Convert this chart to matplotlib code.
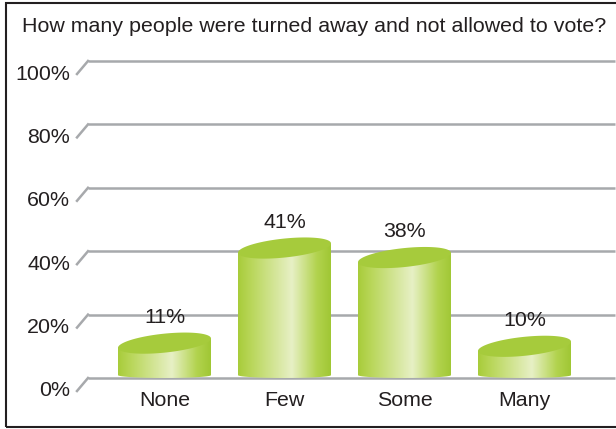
import numpy as np
import matplotlib.pyplot as plt
from matplotlib.patches import Polygon, Rectangle
from matplotlib.colors import LinearSegmentedColormap

plt.rcParams['font.family'] = ['Liberation Sans', 'DejaVu Sans']

title = "How many people were turned away and not allowed to vote?"
categories = ["None", "Few", "Some", "Many"]
values = [11, 41, 38, 10]
yticks = [0, 20, 40, 60, 80, 100]

W, H = 616, 429
fig = plt.figure(figsize=(W / 100, H / 100), dpi=100)

# axes box in pixels (back wall)
left_px, right_px, bot_px, top_px = 88, 615, 378, 61
ax = fig.add_axes([left_px / W, 1 - bot_px / H,
                   (right_px - left_px) / W, (bot_px - top_px) / H])
ax.axis('off')

unit = 120.0                      # pixels per category
xmin = -(164.5 - left_px) / unit
xmax = xmin + (right_px - left_px) / unit
ax.set_xlim(xmin, xmax)
ax.set_ylim(0, 100)

py = 100.0 / (bot_px - top_px)    # data units per pixel (y)
dark = '#231f20'
grid_c = '#a7a9ac'
fs = 15.4

# grid lines with slanted wall stub
for v in yticks:
    ax.plot([xmin, xmax], [v, v], color=grid_c, lw=1.8, solid_capstyle='butt',
            clip_on=False, zorder=1)
    ax.plot([xmin - 11 / unit, xmin], [v - 13 * py, v], color=grid_c, lw=1.8,
            clip_on=False, zorder=1)
    ax.text(xmin - 18 / unit, v - 13 * py, f"{v}%", ha='right', va='center',
            fontsize=fs, color=dark)

cmap = LinearSegmentedColormap.from_list('cyl', [
    (0.0, (168/255, 204/255, 58/255)),
    (0.15, (186/255, 215/255, 92/255)),
    (0.58, (231/255, 240/255, 197/255)),
    (0.85, (178/255, 211/255, 78/255)),
    (1.0, (160/255, 199/255, 52/255)),
])
grad = np.linspace(0, 1, 256).reshape(1, -1)

bw = 93 / unit
a = bw / 2
b = 9.5 * py
shear = 0.1 * py * unit
t_top = np.linspace(0, 2 * np.pi, 200)
t_bot = np.linspace(np.pi, 2 * np.pi, 100)

for i, (cat, v) in enumerate(zip(categories, values)):
    x0, x1 = i - a, i + a
    # body outline: left side, bottom arc, right side
    bx = i + a * np.cos(t_bot)
    by = 0.9 + 0.9 * np.sin(t_bot)
    body = np.vstack([[x0, v], np.column_stack([bx, by]), [x1, v]])
    body[0, 1] = v + shear * (-a)
    body[-1, 1] = v + shear * a
    poly = Polygon(body, closed=True, facecolor='none', edgecolor='none')
    ax.add_patch(poly)
    im = ax.imshow(grad, cmap=cmap, extent=[x0, x1, 0, v + 5], aspect='auto',
                   zorder=2, interpolation='bilinear')
    im.set_clip_path(poly)

    # top ellipse, sheared so it tilts up to the right
    ex = a * np.cos(t_top)
    ey = v + b * np.sin(t_top) + shear * ex
    ax.add_patch(Polygon(np.column_stack([i + ex, ey]), closed=True,
                         facecolor='#a6cb3c', edgecolor='none', zorder=3))

    ax.annotate(f"{v}%", (i, v), xytext=(0, 26), textcoords='offset pixels',
                ha='center', va='center', fontsize=fs, color=dark, zorder=4)
    ax.text(i, -22 * py, cat, ha='center', va='center', fontsize=fs, color=dark)

ax.set_xlim(xmin, xmax)
ax.set_ylim(0, 100)

fig.text(22 / W, 1 - 26 / H, title, ha='left', va='center', fontsize=fs,
         color=dark)

# outer frame
fig.add_artist(Rectangle((6 / W, 2 / H), 1.2, 1 - 5 / H, transform=fig.transFigure,
                         fill=False, edgecolor=dark, lw=1.5))

fig.savefig('out.png', dpi=100)
